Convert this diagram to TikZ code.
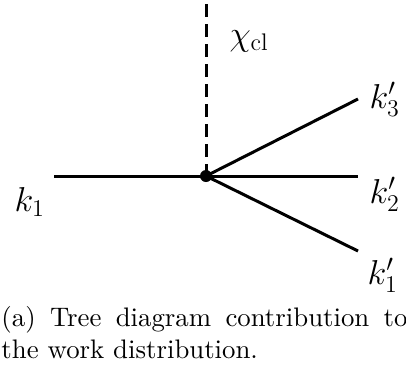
\documentclass[tikz,border=0pt]{standalone}
\usepackage{fontspec}
\newfontfamily\capfont{lmroman10-regular.otf}
\usepackage{tikz}
\usetikzlibrary{arrows.meta}

\begin{document}
\begin{tikzpicture}[x=.5pt,y=-.5pt,line width=1.5pt,lbl/.style={anchor=base west,inner sep=0,font=\fontsize{17.28}{20}\selectfont}]
\useasboundingbox (0,0) rectangle (406,366);
\coordinate (v) at (206,176);\coordinate (top) at (206,4);\coordinate (in) at (54,176);
\draw (in)--(v);\draw[dash pattern=on 6.5pt off 3.5pt] (top)--(v);
\foreach \y [count=\i] in {251,176,99}{\coordinate (out\i) at (358,\y);\draw (v)--(out\i);}
\fill (v) circle (6);
\node[lbl] (chi) at (228,45){$\chi_{\mathrm{cl}}$};\node[lbl] (k1) at (13,211){$k_1$};
\node[lbl] (kp3) at (368,108){$k'_3$};\node[lbl] (kp2) at (368,203){$k'_2$};\node[lbl] (kp1) at (366,284){$k'_1$};
\node[anchor=base west,inner sep=0,text width=203pt,align=justify,font=\capfont\fontsize{13.4}{16}\selectfont] (cap) at (0,326){(a) Tree diagram contribution to\linebreak the work distribution.};
\end{tikzpicture}
\end{document}
